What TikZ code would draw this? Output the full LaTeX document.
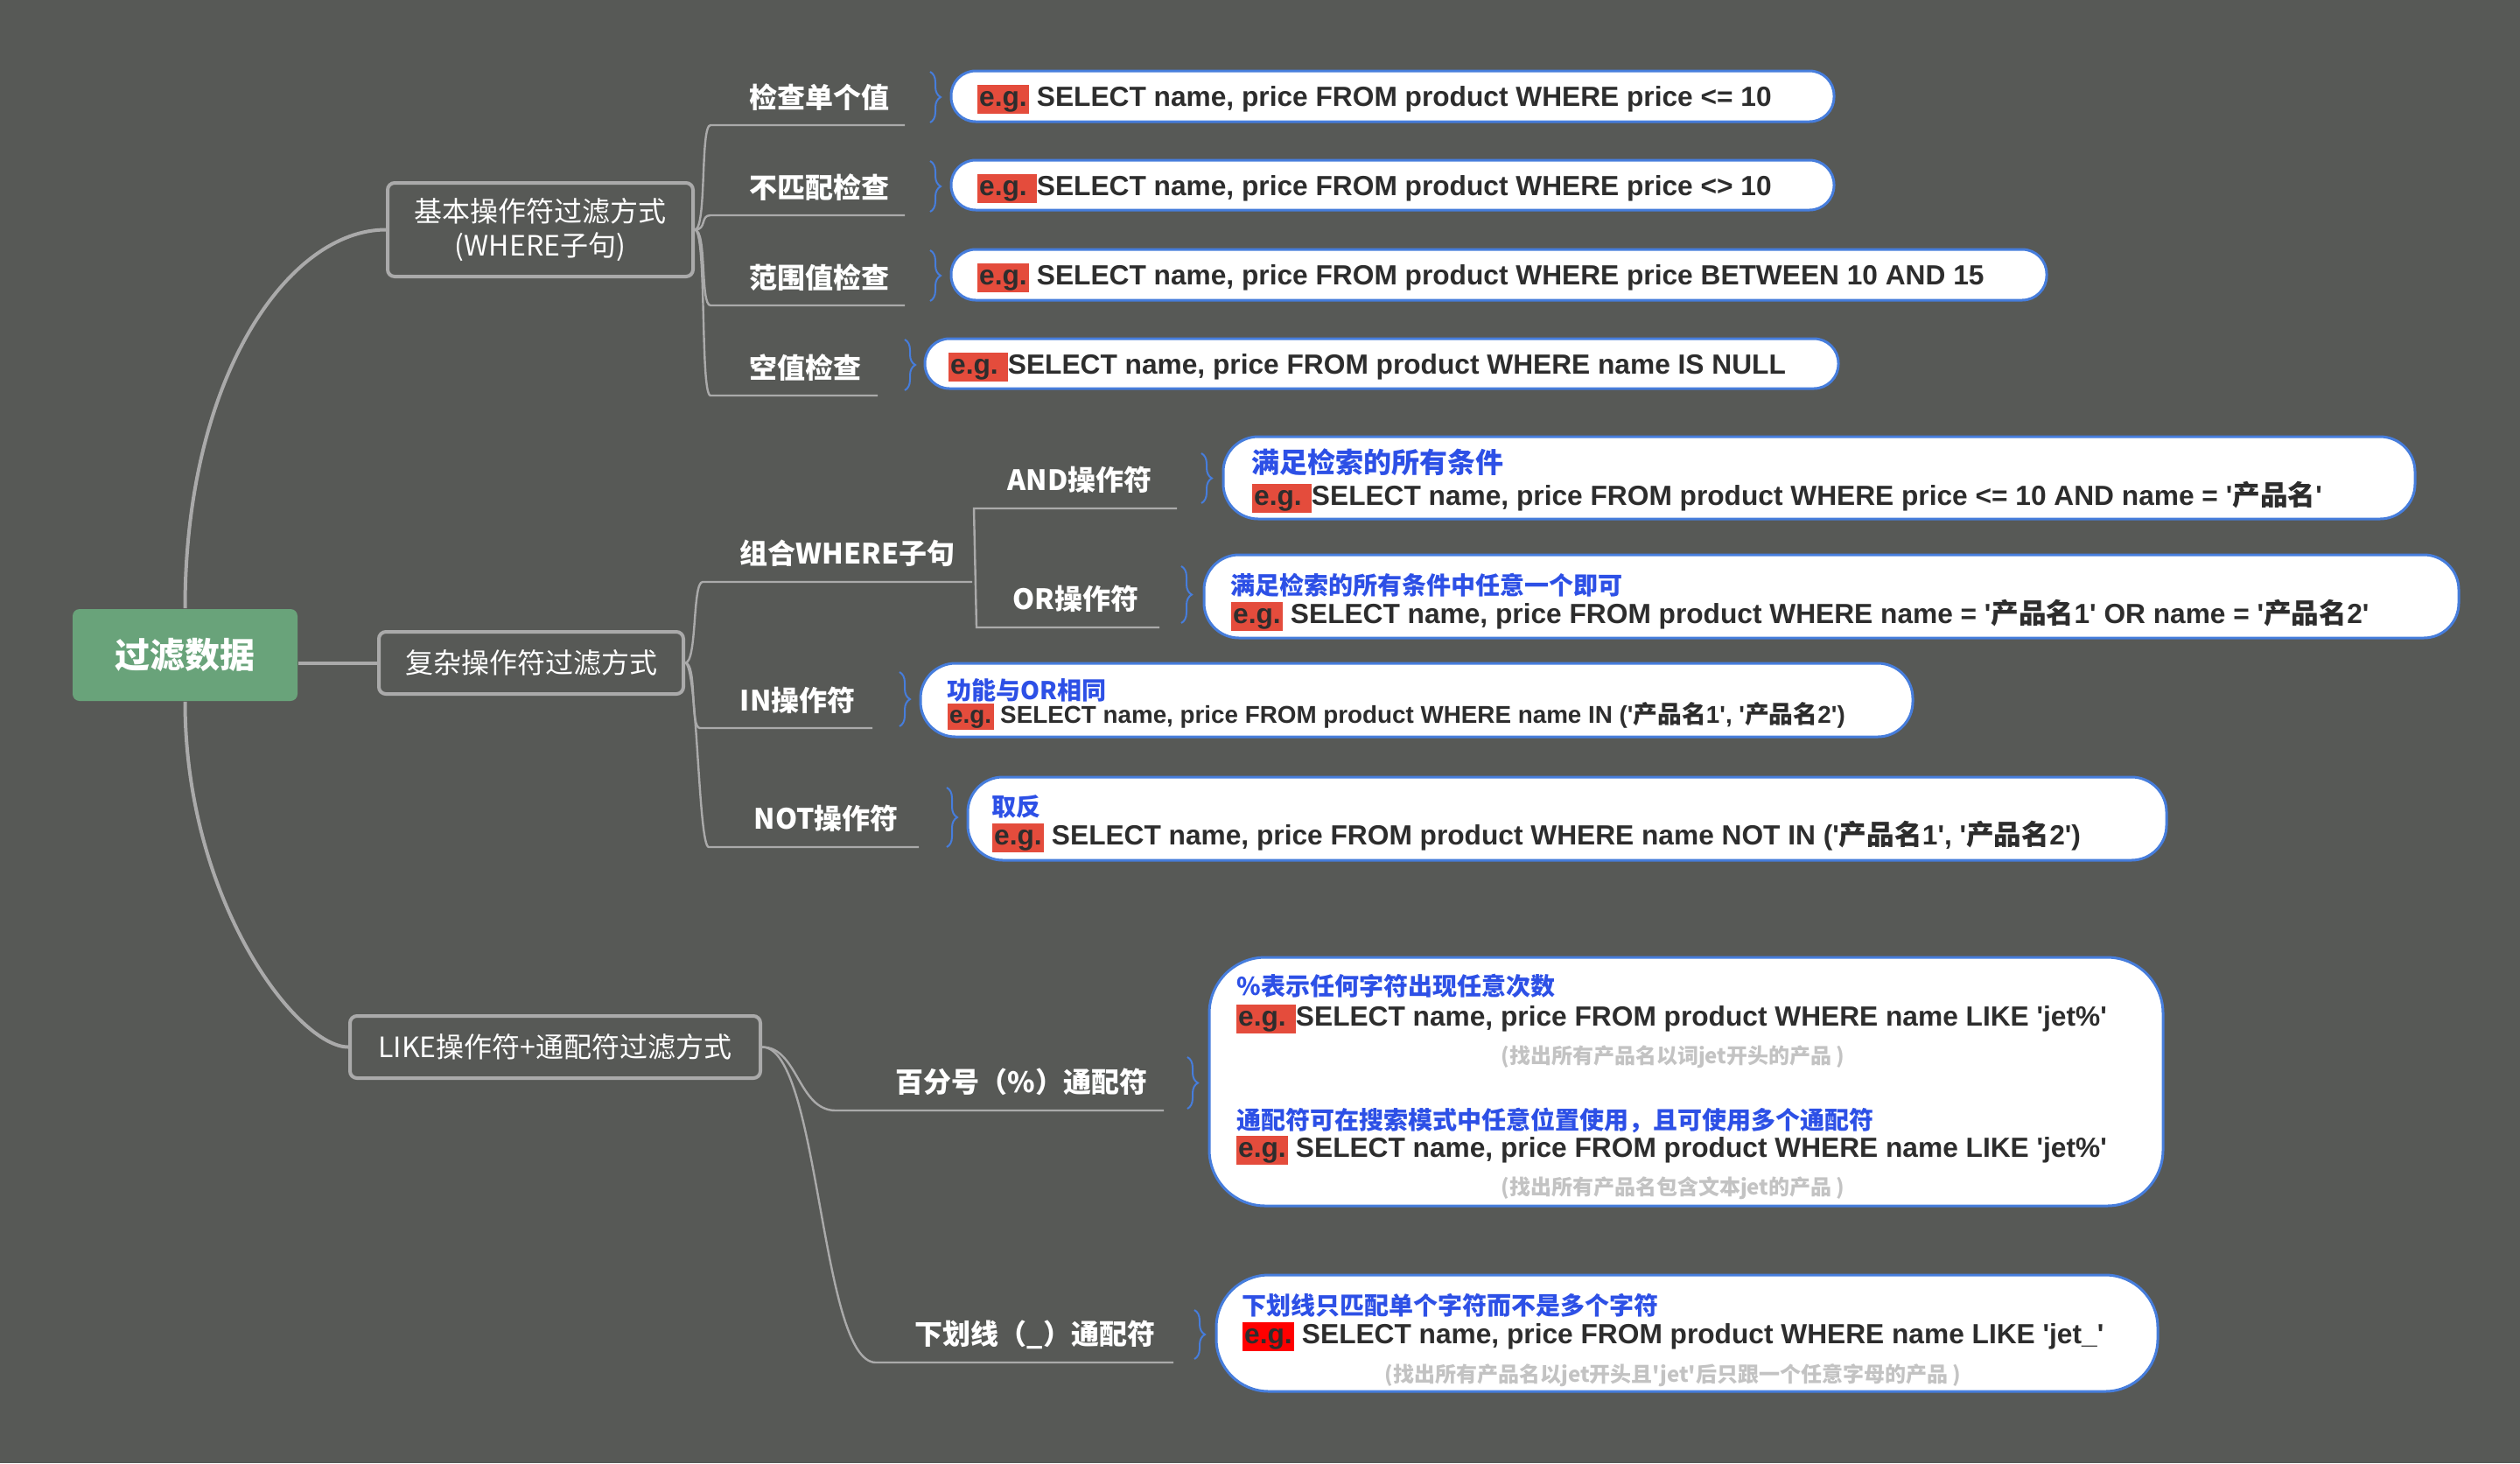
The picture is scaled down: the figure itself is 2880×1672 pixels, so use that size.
\documentclass[tikz,border=0pt]{standalone}
\usepackage{fontspec}
\setmainfont{Liberation Sans}
\newfontfamily\cjk{Noto Sans CJK SC}
\usetikzlibrary{decorations.pathreplacing}
\definecolor{bgc}{RGB}{87,89,86}
\definecolor{rootg}{RGB}{105,163,122}
\definecolor{lineg}{RGB}{170,170,170}
\definecolor{boxblue}{RGB}{70,125,220}
\definecolor{bluet}{RGB}{45,80,230}
\definecolor{egred}{RGB}{228,76,60}
\definecolor{egred2}{RGB}{255,0,0}
\definecolor{codec}{RGB}{45,45,45}
\definecolor{noteg}{RGB}{195,195,195}
\newcommand\C[1]{{\cjk #1}}
\newcommand\q{\textquotesingle}
\newcommand\eg{{\setlength{\fboxsep}{0.6pt}\colorbox{egred}{\vphantom{Eg}e.g.}}}
\newcommand\egs{{\setlength{\fboxsep}{0.6pt}\colorbox{egred}{\vphantom{Eg}e.g.\ }}}
\newcommand\egr{{\setlength{\fboxsep}{0.6pt}\colorbox{egred2}{\vphantom{Eg}e.g.}}}
\newcommand\codefont{\bfseries\fontsize{7.92}{9.5}\selectfont}
\tikzset{
  rootbox/.style={fill=rootg, rounded corners=2pt, text=white, font=\cjk\bfseries\fontsize{10}{12}\selectfont, inner sep=0},
  lonebox/.style={draw=lineg, line width=1pt, rounded corners=2pt, fill=bgc, text=white, font=\cjk\fontsize{8}{9.75}\selectfont, align=center, inner sep=0},
  thickline/.style={draw=lineg, line width=1pt},
  thinline/.style={draw=lineg, line width=0.6pt},
  lbl/.style={anchor=base west, inner sep=0, text=white, font=\cjk\bfseries\fontsize{8}{9.6}\selectfont},
  exbox/.style={draw=boxblue, line width=0.75pt, fill=white, inner sep=0},
  code/.style={anchor=base west, inner sep=0, text=codec, font=\codefont},
  bluetxt/.style={anchor=base west, inner sep=0, text=bluet, font=\cjk\bfseries\fontsize{7}{8.4}\selectfont},
  note/.style={anchor=base, inner sep=0, text=noteg, font=\cjk\bfseries\fontsize{6}{7.2}\selectfont},
  brc/.style={draw=boxblue, line width=0.5pt, decorate, decoration={brace, amplitude=3pt}}
}
\begin{document}
\begin{tikzpicture}[x=0.25pt,y=-0.25pt]
\useasboundingbox[fill=bgc] (0,0) rectangle (2880,1672);

% root and level 1
\node[rootbox, minimum width=64.25pt, minimum height=26.25pt] (root) at (211.5,748.5) {过滤数据};
\node[lonebox, minimum width=87.25pt, minimum height=26.75pt] (b1) at (617.5,262.5) {基本操作符过滤方式\\(WHERE子句)};
\node[lonebox, minimum width=87pt, minimum height=17.75pt] (b2) at (607,757.5) {复杂操作符过滤方式};
\node[lonebox, minimum width=117.25pt, minimum height=17.75pt] (b3) at (634.5,1196.5) {LIKE操作符+通配符过滤方式};

\draw[thickline] (root.north) .. controls (211.5,430) and (330,262.5) .. (b1.west);
\draw[thickline] (root.south) .. controls (211.5,1030) and (340,1196.5) .. (b3.west);
\draw[thickline] (root.east |- b2.west) -- (b2.west);

% level 2 labels
\node[lbl] (l11) at (856,123) {检查单个值};
\node[lbl] (l12) at (856,226) {不匹配检查};
\node[lbl] (l13) at (856,329) {范围值检查};
\node[lbl] (l14) at (856,432) {空值检查};
\node[lbl] (l21) at (845,644) {组合WHERE子句};
\node[lbl] (l211) at (1151,560) {AND操作符};
\node[lbl] (l212) at (1157,696) {OR操作符};
\node[lbl] (l22) at (845,812) {IN操作符};
\node[lbl] (l23) at (861,947) {NOT操作符};
\node[lbl] (l31) at (1023,1248) {百分号（\%）通配符};
\node[lbl] (l32) at (1045,1536) {下划线（\_）通配符};

% underline coordinates
\coordinate (u11s) at (812,143); \coordinate (u11e) at (1034,143);
\coordinate (u12s) at (812,246); \coordinate (u12e) at (1034,246);
\coordinate (u13s) at (812,349); \coordinate (u13e) at (1034,349);
\coordinate (u14s) at (812,452); \coordinate (u14e) at (1003,452);
\coordinate (u21s) at (803,665); \coordinate (u21e) at (1111,665);
\coordinate (u211s) at (1113,581); \coordinate (u211e) at (1345,581);
\coordinate (u212s) at (1116,717); \coordinate (u212e) at (1325,717);
\coordinate (u22s) at (800,832); \coordinate (u22e) at (997,832);
\coordinate (u23s) at (810,968); \coordinate (u23e) at (1050,968);
\coordinate (u31s) at (955,1269); \coordinate (u31e) at (1330,1269);
\coordinate (u32s) at (1001,1557); \coordinate (u32e) at (1341,1557);

\foreach \u in {u11,u12,u13,u14}{
  \draw[thinline] (b1.east) .. controls ([xshift=3.5pt]b1.east) and ([xshift=-3pt]\u s) .. (\u s) -- (\u e);
}
\foreach \u in {u21,u22,u23}{
  \draw[thinline] (b2.east) .. controls ([xshift=3.5pt]b2.east) and ([xshift=-3pt]\u s) .. (\u s) -- (\u e);
}
\draw[thinline] (u211e) -- (u211s) -- (u212s) -- (u212e);
\draw[thinline] (b3.east) .. controls (912,1196.5) and (912,1269) .. (u31s) -- (u31e);
\draw[thinline] (b3.east) .. controls (937,1196.5) and (937,1557) .. (u32s) -- (u32e);

% braces
\draw[brc] (1063,82) -- (1063,140);
\draw[brc] (1063,184) -- (1063,242);
\draw[brc] (1063,286) -- (1063,344);
\draw[brc] (1034,388) -- (1034,446);
\draw[brc] (1373,518) -- (1373,575);
\draw[brc] (1350,647) -- (1350,712);
\draw[brc] (1028,768) -- (1028,830);
\draw[brc] (1082,900) -- (1082,968);
\draw[brc] (1357,1208) -- (1357,1267);
\draw[brc] (1365,1497) -- (1365,1553);

% example boxes
\node[exbox, rounded corners=7pt, minimum width=252.25pt, minimum height=14.5pt] (e11) at (1591.5,110) {};
\node[exbox, rounded corners=7pt, minimum width=252.25pt, minimum height=14.25pt] (e12) at (1591.5,211.5) {};
\node[exbox, rounded corners=7pt, minimum width=313pt, minimum height=14.5pt] (e13) at (1713,314) {};
\node[exbox, rounded corners=7pt, minimum width=261pt, minimum height=14.25pt] (e14) at (1579,415.5) {};
\node[exbox, rounded corners=10pt, minimum width=340.5pt, minimum height=23.5pt] (e211) at (2079,546) {};
\node[exbox, rounded corners=10pt, minimum width=358.5pt, minimum height=23.75pt] (e212) at (2093,681.5) {};
\node[exbox, rounded corners=10pt, minimum width=283.5pt, minimum height=21pt] (e22) at (1619,800) {};
\node[exbox, rounded corners=10pt, minimum width=342.5pt, minimum height=23.75pt] (e23) at (1791,935.5) {};
\node[exbox, rounded corners=16pt, minimum width=272.5pt, minimum height=71pt] (e31) at (1927,1236) {};
\node[exbox, rounded corners=15pt, minimum width=269pt, minimum height=33.25pt] (e32) at (1928,1523.5) {};

% texts in boxes
\node[code] (t11) at (1116,121) {\eg\ SELECT name, price FROM product WHERE price <= 10};
\node[code] (t12) at (1116,223) {\egs SELECT name, price FROM product WHERE price <> 10};
\node[code] (t13) at (1116,325) {\eg\ SELECT name, price FROM product WHERE price BETWEEN 10 AND 15};
\node[code] (t14) at (1083,427) {\egs SELECT name, price FROM product WHERE name IS NULL};

\node[bluetxt, font=\cjk\bfseries\fontsize{8}{9.6}\selectfont] (h211) at (1430,540) {满足检索的所有条件};
\node[code] (t211) at (1430,577) {\egs SELECT name, price FROM product WHERE price <= 10 AND name = \q\C{产品名}\q};
\node[bluetxt] (h212) at (1406,679) {满足检索的所有条件中任意一个即可};
\node[code] (t212) at (1406,712) {\eg\ SELECT name, price FROM product WHERE name = \q\C{产品名}1\q{} OR name = \q\C{产品名}2\q};
\node[bluetxt] (h22) at (1082,799) {功能与OR相同};
\node[code, font=\bfseries\fontsize{6.95}{8.4}\selectfont] (t22) at (1082,826) {\eg\ SELECT name, price FROM product WHERE name IN (\q\C{产品名}1\q, \q\C{产品名}2\q)};
\node[bluetxt] (h23) at (1133,932) {取反};
\node[code] (t23) at (1133,965) {\eg\ SELECT name, price FROM product WHERE name NOT IN (\q\C{产品名}1\q, \q\C{产品名}2\q)};

\node[bluetxt] (h311) at (1413,1137) {\%表示任何字符出现任意次数};
\node[code] (t311) at (1412,1172) {\egs SELECT name, price FROM product WHERE name LIKE \q jet\%\q};
\node[note] (n311) at (1912,1215) {(找出所有产品名以词jet开头的产品 )};
\node[bluetxt] (h312) at (1413,1290) {通配符可在搜索模式中任意位置使用，且可使用多个通配符};
\node[code] (t312) at (1412,1322) {\eg\ SELECT name, price FROM product WHERE name LIKE \q jet\%\q};
\node[note] (n312) at (1912,1365) {(找出所有产品名包含文本jet的产品 )};

\node[bluetxt] (h32) at (1419,1502) {下划线只匹配单个字符而不是多个字符};
\node[code] (t32) at (1419,1535) {\egr\ SELECT name, price FROM product WHERE name LIKE \q jet\_\q};
\node[note] (n32) at (1912,1579) {(找出所有产品名以jet开头且\q jet\q 后只跟一个任意字母的产品 )};
\end{tikzpicture}
\end{document}
